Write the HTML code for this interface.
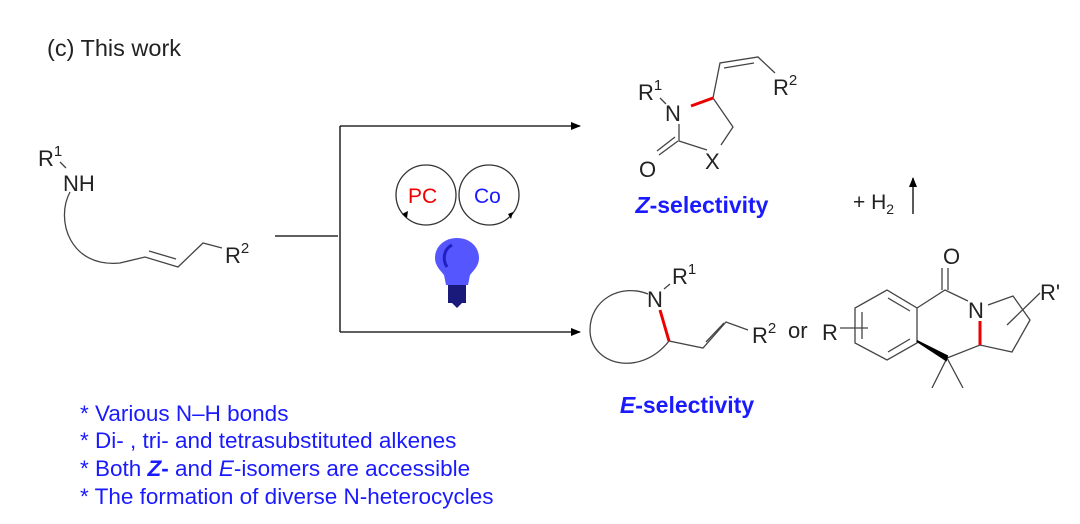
<!DOCTYPE html>
<html><head><style>html,body{margin:0;padding:0;background:#fff}svg{display:block}</style></head>
<body>
<svg width="1080" height="524" viewBox="0 0 1080 524" xmlns="http://www.w3.org/2000/svg" font-family="Liberation Sans, Arial, sans-serif">
<defs><marker id="ah" markerWidth="10" markerHeight="8" refX="9" refY="4" orient="auto" markerUnits="userSpaceOnUse"><path d="M0,0 L10,4 L0,8 Z" fill="#000"/></marker></defs>
<text x="47" y="56" font-size="23.5" fill="#222">(c) This work</text>
<!-- substrate -->
<g fill="#222" font-size="22">
<text x="38" y="166">R<tspan font-size="15" dy="-10">1</tspan></text>
<text x="63" y="191">NH</text>
<text x="225" y="263">R<tspan font-size="15" dy="-10">2</tspan></text>
</g>
<g stroke="#444" stroke-width="1.3" fill="none">
<line x1="60" y1="162" x2="66" y2="168"/>
<path d="M70,192 C55,220 70,268 120,263 L145,257 L178,267 L203,243 L222,248"/>
<line x1="149" y1="251" x2="176" y2="259"/>
<line x1="275" y1="236" x2="338" y2="236" stroke="#000"/>
<path d="M340,126 V332" stroke="#000"/>
<line x1="340" y1="126" x2="580" y2="126" stroke="#000" marker-end="url(#ah)"/>
<line x1="340" y1="332" x2="580" y2="332" stroke="#000" marker-end="url(#ah)"/>
</g>
<!-- catalysts -->
<g stroke="#333" stroke-width="1.3" fill="none">
<circle cx="426" cy="195" r="30"/><circle cx="489" cy="195" r="30"/>
</g>
<path d="M402,214 l6,-3 l-1,7z" fill="#000"/><path d="M513,212 l-5,2 l3,5z" fill="#000"/>
<text x="408" y="203" font-size="21" fill="#e00">PC</text>
<text x="474" y="203" font-size="21" fill="#1a1aff">Co</text>
<path d="M457,238 c-13,0 -22,9 -22,20 c0,8 6,13 9,17 l2,10 h22 l2,-10 c3,-4 9,-9 9,-17 c0,-11 -9,-20 -22,-20z" fill="#4d4dff" opacity="0.95"/>
<path d="M452,245 c-8,4 -10,14 -5,22" stroke="#2020c0" stroke-width="3" fill="none"/>
<rect x="448" y="285" width="18" height="18" fill="#1a1a7a"/>
<path d="M452,303 h10 l-5,5z" fill="#1a1a7a"/>
<!-- top product -->
<g fill="#222" font-size="22">
<text x="638" y="100">R<tspan font-size="15" dy="-10">1</tspan></text>
<text x="665" y="121">N</text>
<text x="705" y="169">X</text>
<text x="639" y="177">O</text>
<text x="773" y="95">R<tspan font-size="15" dy="-10">2</tspan></text>
</g>
<g stroke="#444" stroke-width="1.3" fill="none">
<line x1="660" y1="98" x2="666" y2="104"/>
<path d="M713,98 L733,127 L721,145 M707,150 L679,141 L679,124 M713,98 L720,63 L758,57 L775,73"/>
<line x1="724" y1="68" x2="754" y2="63"/>
<line x1="678" y1="141" x2="659" y2="155"/><line x1="675" y1="137" x2="657" y2="151"/>
</g>
<line x1="691" y1="106" x2="713" y2="98" stroke="#e00" stroke-width="3"/>
<text x="702" y="213" font-size="23" font-weight="bold" fill="#1a1aff" text-anchor="middle"><tspan font-style="italic">Z</tspan>-selectivity</text>
<text x="853" y="209" font-size="21" fill="#222">+ H<tspan font-size="14" dy="5">2</tspan></text>
<line x1="913" y1="214" x2="913" y2="178" stroke="#000" stroke-width="1.3" marker-end="url(#ah)"/>
<!-- bottom product -->
<g fill="#222" font-size="22">
<text x="647" y="307">N</text>
<text x="672" y="284">R<tspan font-size="15" dy="-10">1</tspan></text>
<text x="752" y="343">R<tspan font-size="15" dy="-10">2</tspan></text>
<text x="788" y="338">or</text>
<text x="822" y="340">R</text>
<text x="943" y="264">O</text>
<text x="968" y="318">N</text>
<text x="1040" y="300">R'</text>
</g>
<g stroke="#444" stroke-width="1.3" fill="none">
<line x1="664" y1="289" x2="670" y2="284"/>
<path d="M648,294 C620,283 590,300 590,330 C590,365 640,378 669,341 L703,348 L726,322 L748,330"/>
<line x1="706" y1="342" x2="724" y2="323"/>
<path d="M887,290 L917,308 L917,343 L887,360 L855,343 L855,308 Z"/>
<line x1="888" y1="298" x2="910" y2="311"/><line x1="888" y1="352" x2="910" y2="339"/><line x1="862" y1="312" x2="862" y2="339"/>
<line x1="840" y1="328" x2="868" y2="328"/>
<path d="M917,308 L945,290 L968,301 M988,305 L1013,296 L1030,320 L1012,352 L980,345 L947,358 L932,388 M947,358 L963,388"/>
<line x1="942" y1="290" x2="942" y2="268"/><line x1="948" y1="290" x2="948" y2="268"/>
<line x1="1007" y1="325" x2="1040" y2="293"/>
</g>
<path d="M917,341 L947,356 L946,360 Z" fill="#000" stroke="#000" stroke-width="2"/>
<line x1="980" y1="321" x2="980" y2="345" stroke="#e00" stroke-width="3"/>
<line x1="660" y1="310" x2="669" y2="341" stroke="#e00" stroke-width="3"/>
<text x="687" y="413" font-size="23" font-weight="bold" fill="#1a1aff" text-anchor="middle"><tspan font-style="italic">E</tspan>-selectivity</text>
<g font-size="22.5" fill="#1a1aff">
<text x="80" y="421">* Various N–H bonds</text>
<text x="80" y="448">* Di- , tri- and tetrasubstituted alkenes</text>
<text x="80" y="476">* Both <tspan font-weight="bold" font-style="italic">Z</tspan><tspan font-weight="bold">-</tspan> and <tspan font-style="italic">E</tspan>-isomers are accessible</text>
<text x="80" y="504">* The formation of diverse N-heterocycles</text>
</g>
</svg>
</body></html>
